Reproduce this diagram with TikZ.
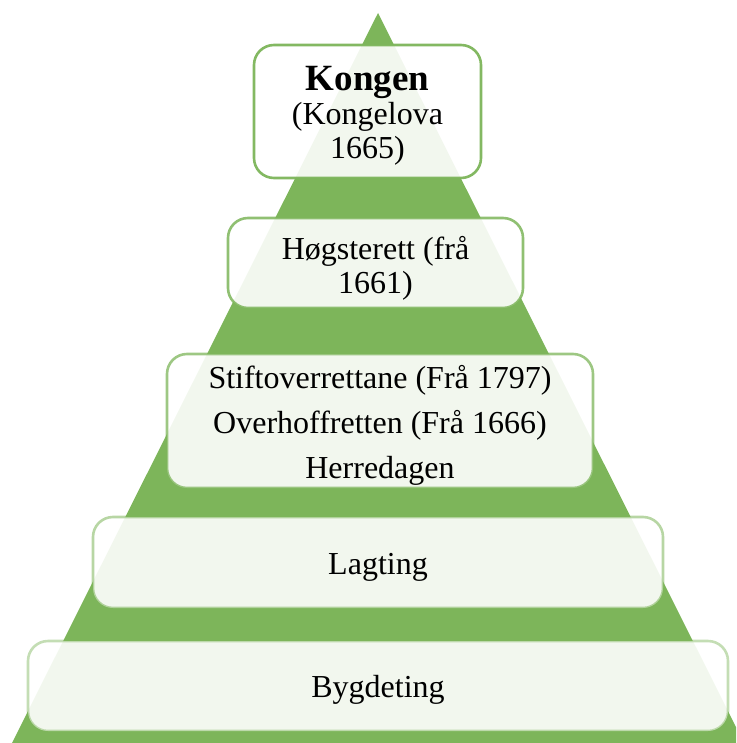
\documentclass[tikz,border=0pt]{standalone}
\usepackage{fontspec}
\setmainfont{Liberation Serif}
\definecolor{pgreen}{RGB}{125,181,90}
\begin{document}
\begin{tikzpicture}[x=1pt,y=-1pt,
  tier/.style={draw=pgreen, line width=2.6pt, rounded corners=20pt, fill=white, fill opacity=0.9, inner sep=0pt},
  lbl/.style={inner sep=0pt, align=center, font=\fontsize{32}{34}\selectfont},
]
\useasboundingbox (0,0) rectangle (736,743);
\clip (0,0) rectangle (736,743);
\fill[pgreen] (378,13) -- (745,745) -- (11,745) -- cycle;
\node[tier, draw opacity=0.95, minimum width=227pt, minimum height=133pt] (kongen) at (367.5,111.5) {};
\node[tier, draw opacity=0.85, minimum width=295pt, minimum height=90pt] (hogste) at (375.5,263) {};
\node[tier, draw opacity=0.75, minimum width=426pt, minimum height=134pt] (stift) at (380,421) {};
\node[tier, draw opacity=0.55, minimum width=570pt, minimum height=91pt] (lag) at (378,562.5) {};
\node[tier, draw opacity=0.45, minimum width=700pt, minimum height=90pt] (bygd) at (378,686) {};
\node[lbl, yshift=-4pt] (kongen-t) at (kongen.center)
  {{\fontsize{37}{38}\selectfont\bfseries Kongen}\\(Kongelova\\1665)};
\node[lbl, yshift=-5pt] (hogste-t) at (hogste.center) {Høgsterett (frå\\ 1661)};
\node[lbl, yshift=-4pt, font=\fontsize{32}{45}\selectfont] (stift-t) at (stift.center)
  {Stiftoverrettane (Frå 1797)\\Overhoffretten (Frå 1666)\\Herredagen};
\node[lbl, yshift=-5pt] (lag-t) at (lag.center) {Lagting};
\node[lbl, yshift=-4pt] (bygd-t) at (bygd.center) {Bygdeting};
\end{tikzpicture}
\end{document}
